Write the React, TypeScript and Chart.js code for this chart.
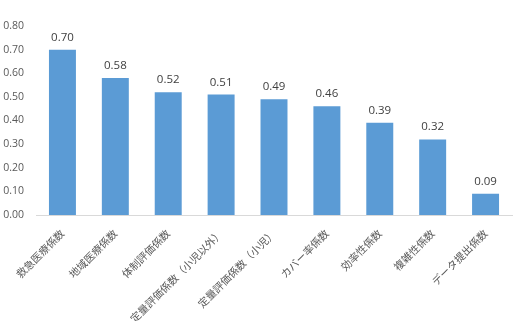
import React, { useEffect, useRef } from "react";
import { Chart, registerables } from "chart.js";

Chart.register(...registerables);

const categories = [
  "救急医療係数",
  "地域医療係数",
  "体制評価係数",
  "定量評価係数（小児以外）",
  "定量評価係数（小児）",
  "カバー率係数",
  "効率性係数",
  "複雑性係数",
  "データ提出係数",
];
const values = [0.7, 0.58, 0.52, 0.51, 0.49, 0.46, 0.39, 0.32, 0.09];
const yMin = 0;
const yMax = 0.8;
const yStep = 0.1;

const FONT_JP = "'Noto Sans CJK JP', 'Noto Sans', sans-serif";
const FONT_NUM = "'Open Sans', 'Noto Sans', sans-serif";

const dataLabelPlugin = {
  id: "dataLabels",
  afterDatasetsDraw(chart: any) {
    const ctx = chart.ctx;
    const meta = chart.getDatasetMeta(0);
    ctx.save();
    ctx.font = `11.5px ${FONT_NUM}`;
    ctx.fillStyle = "#404040";
    ctx.textAlign = "center";
    ctx.textBaseline = "alphabetic";
    meta.data.forEach((bar: any, i: number) => {
      const v = chart.data.datasets[0].data[i];
      ctx.fillText(v.toFixed(2), bar.x, bar.y - 9);
    });
    ctx.restore();
  },
};

export default function App() {
  const ref = useRef<HTMLCanvasElement>(null);
  useEffect(() => {
    document.body.style.margin = "0";
    const chart = new Chart(ref.current!, {
      type: "bar",
      data: {
        labels: categories,
        datasets: [
          {
            data: values,
            backgroundColor: "#5B9BD5",
            categoryPercentage: 1,
            barPercentage: 0.51,
          },
        ],
      },
      options: {
        animation: false,
        responsive: false,
        maintainAspectRatio: false,
        layout: { padding: { top: 26, right: 6, left: 0, bottom: 0 } },
        plugins: { legend: { display: false }, tooltip: { enabled: false } },
        scales: {
          x: {
            grid: { display: false },
            border: { display: true, color: "#D9D9D9", width: 1 },
            ticks: {
              color: "#595959",
              font: { size: 10.5, family: FONT_JP },
              minRotation: 45,
              maxRotation: 45,
              autoSkip: false,
              padding: 4,
            },
            afterFit(scale: any) {
              scale.height = 106;
            },
          },
          y: {
            min: yMin,
            max: yMax,
            grid: { display: false },
            border: { display: false },
            ticks: {
              stepSize: yStep,
              color: "#595959",
              font: { size: 10.5, family: FONT_NUM },
              padding: 4,
              callback: (v: any) => Number(v).toFixed(2),
            },
            afterFit(scale: any) {
              scale.width = 36;
            },
          },
        },
      },
      plugins: [dataLabelPlugin],
    });
    return () => chart.destroy();
  }, []);
  return (
    <div style={{ position: "absolute", left: 0, top: 0, width: 518, height: 321 }}>
      <canvas ref={ref} width={518} height={321} style={{ display: "block" }} />
    </div>
  );
}
